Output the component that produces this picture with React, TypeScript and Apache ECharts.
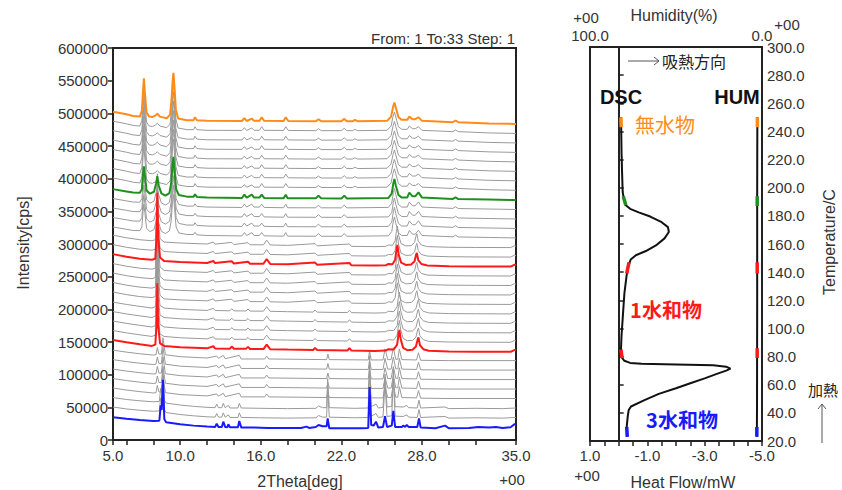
import React, { useEffect, useRef } from "react";
import * as echarts from "echarts";

// ---------- XRD (left panel) ----------
const xLabelValues = [5, 10, 16, 22, 28, 35];
const xTickValues = [5, 6, 8, 10, 12, 14, 16, 18, 20, 22, 24, 26, 28, 30, 32, 35];

// vertical offset of each of the 33 patterns (cps)
const offsets = [
  20000, 34500, 49000, 63500, 78000, 92500, 107000, 121500, 136000, 150500, 165000,
  179500, 194000, 208500, 223000, 237500, 252000, 266500, 281000, 295500, 310000,
  324500, 339000, 353500, 368000, 382500, 397000, 411500, 426000, 440500, 455000,
  469500, 484000,
];

// which pattern shape each scan shows
const phaseOfPattern = [
  "T", "Tg", "Tg", "X", "X", "X", "X", "X",
  "M1", "M1", "M1", "M1", "M1",
  "M2", "M2", "M2", "M2", "M2", "M2", "M2",
  "G", "G", "G", "G", "G",
  "A", "A", "A", "A", "A", "A", "A", "A",
];

const highlightColors: Record<number, string> = {
  0: "#1a1aff",
  8: "#ff1a1a",
  17: "#ff1a1a",
  24: "#1f8f1f",
  32: "#ff8c1a",
};

// pattern shapes: [2theta, intensity above offset]
const T: number[][] = [
  [5, 15000], [6, 12500], [7, 10500], [8, 9000], [8.45, 9500], [8.55, 33000], [8.62, 26000],
  [8.72, 72000], [8.82, 12000], [8.95, 7000], [10, 4000], [11, 2000], [12, 500], [12.6, 0],
  [12.72, 5000], [12.85, 0], [13.1, 0], [13.21, 8000], [13.35, 0], [13.5, -500], [13.59, 4000],
  [13.7, -500], [14.3, -500], [14.4, 9000], [14.55, -1000], [15.5, -1000], [16.5, -1500],
  [17.5, -1500], [19.0, -1500], [19.4, 500], [19.6, -1500], [20.1, 0], [20.3, 3000], [20.6, 1000],
  [20.9, 1000], [20.98, 13000], [21.1, -2000], [22.5, -2000], [23.5, -2000], [24.0, -1500],
  [24.1, 61000], [24.22, 3000], [24.4, 2000], [24.58, 8000], [24.75, -1000], [25.1, 0],
  [25.25, 16500], [25.4, 0], [25.75, 2000], [25.87, 24500], [26.0, 0], [26.5, 0], [26.6, 2000],
  [26.75, 0], [26.87, 3000], [27.0, 0], [27.65, 0], [27.78, 13000], [27.9, -1000], [29.0, -2000],
  [29.72, 2000], [30.0, -2000], [31.5, -1500], [32.2, 0], [33.0, -1000], [33.5, 0], [34.0, -1500],
  [34.6, -500], [34.9, 4500], [35.0, 3000],
];
const Tg: number[][] = [
  [5, 16000], [6, 13000], [7, 11000], [8, 9500], [8.45, 10000], [8.55, 30000], [8.62, 24000],
  [8.72, 60000], [8.82, 12000], [8.95, 7500], [10, 4500], [11, 2500], [12, 1000], [12.6, 500],
  [12.72, 6000], [12.85, 500], [13.1, 500], [13.21, 7000], [13.35, 500], [13.59, 4000], [13.7, 0],
  [14.3, 0], [14.4, 7000], [14.55, 0], [16, -500], [18, -1000], [20.1, -500], [20.3, 3000],
  [20.6, 500], [20.9, 500], [20.98, 45000], [21.1, 500], [23, -500], [24, 0], [24.1, 80000],
  [24.22, 2000], [24.58, 6000], [24.75, 0], [25.1, 1000], [25.25, 52000], [25.4, 1500],
  [25.75, 2500], [25.87, 60000], [26.0, 2000], [26.6, 1500], [26.87, 4000], [27.0, 500],
  [27.65, 0], [27.78, 12000], [27.9, 0], [29.7, 1500], [30, -1000], [32, -500], [34, -1000],
  [35, 0],
];
const X: number[][] = [
  [5, 16000], [6, 13000], [7, 10500], [8, 8500], [8.2, 9000], [8.3, 20000], [8.42, 10000],
  [8.6, 10000], [8.72, 35000], [8.9, 9000], [10, 6000], [12, 4000], [12.72, 7000], [12.85, 3500],
  [13.21, 8000], [13.35, 3000], [14.4, 8000], [14.55, 2500], [16.3, 2500], [16.44, 7000],
  [16.6, 2500], [20.9, 1500], [21.0, 10000], [21.1, 1500], [24.0, 1000], [24.1, 15000],
  [24.22, 1000], [25.1, 1000], [25.25, 18000], [25.45, 1500], [25.7, 1500], [25.87, 20000],
  [26.05, 2000], [26.2, 2000], [26.32, 18000], [26.5, 1500], [27.6, 1000], [27.74, 12000],
  [27.9, 500], [30, 0], [35, 0],
];
const M1: number[][] = [
  [5, 17000], [6, 13500], [7, 10500], [7.9, 8000], [8.15, 10000], [8.24, 40000], [8.3, 104000],
  [8.36, 40000], [8.5, 12000], [8.8, 8000], [10, 6000], [12, 4300], [12.47, 7500], [12.6, 4200],
  [13.7, 3800], [13.84, 7000], [14, 3700], [14.9, 3500], [15.05, 6500], [15.2, 3300], [16.2, 3200],
  [16.44, 10000], [16.7, 3000], [18, 2400], [19.9, 1800], [20.04, 5000], [20.2, 1700], [22.45, 1000],
  [22.6, 4500], [22.75, 900], [24.5, 300], [25.3, 800], [25.5, 3000], [25.9, 2500],
  [26.15, 10000], [26.25, 25000], [26.32, 32500], [26.42, 18000], [26.6, 5000], [26.9, 1500],
  [27.3, 2000], [27.55, 7000], [27.68, 18000], [27.74, 21000], [27.85, 9000], [28.1, 3000],
  [28.5, 500], [30, -500], [32, -800], [34.6, -1000], [34.9, 2000], [35, 1000],
];
const M2: number[][] = [
  [5, 18000], [6, 14000], [7, 11000], [7.9, 9500], [8.15, 11000], [8.24, 45000], [8.3, 112000],
  [8.36, 45000], [8.5, 13000], [8.8, 7500], [10, 6000], [12, 4500], [12.47, 7500], [12.6, 4300],
  [13.84, 7000], [14, 3700], [15.05, 6500], [15.2, 3300], [16.2, 3300], [16.44, 10500],
  [16.7, 3000], [18, 2400], [20.04, 5000], [20.2, 1700], [22.6, 4500], [22.75, 900], [24.5, 500],
  [25.3, 800], [25.5, 3000], [25.8, 2500], [26.0, 9000], [26.1, 24000], [26.17, 32000],
  [26.27, 17000], [26.45, 5000], [26.8, 1500], [27.2, 2000], [27.45, 7000], [27.56, 17000],
  [27.62, 20000], [27.72, 9000], [27.95, 3000], [28.4, 500], [30, -500], [32, -800],
  [34.6, -1000], [34.9, 2000], [35, 1000],
];
const G: number[][] = [
  [5, 16000], [6, 12500], [6.5, 10700], [7.0, 10500], [7.15, 16000], [7.24, 40000], [7.3, 51000],
  [7.37, 38000], [7.5, 14000], [7.75, 9000], [8.05, 12000], [8.2, 24000], [8.3, 36000],
  [8.4, 22000], [8.6, 9500], [8.9, 6000], [9.2, 10000], [9.33, 25000], [9.43, 55000],
  [9.5, 65500], [9.58, 45000], [9.7, 16000], [9.9, 7000], [10.5, 4500], [11.0, 4500],
  [11.1, 8000], [11.25, 4000], [12, 3000], [14.6, 2400], [14.78, 7500], [14.95, 3000],
  [15.33, 7500], [15.5, 3000], [15.9, 3000], [16.07, 7500], [16.25, 2500], [17.7, 2000],
  [17.86, 7500], [18.0, 2000], [20.1, 1900], [20.29, 6000], [20.5, 1900], [22.0, 1800],
  [22.22, 6000], [22.4, 1800], [25.5, 2500], [25.75, 9000], [25.87, 25000], [25.95, 31500],
  [26.05, 22000], [26.25, 7000], [26.5, 3000], [26.9, 3000], [27.06, 10700], [27.3, 5000],
  [27.5, 5000], [27.74, 11000], [28.0, 3000], [30.3, 1000], [30.5, 3500], [30.7, 800], [33, 0],
  [35, -700],
];
const A: number[][] = [
  [5, 18500], [6, 14500], [6.5, 12000], [7.0, 11000], [7.15, 20000], [7.24, 52000],
  [7.3, 69500], [7.37, 48000], [7.5, 17000], [7.7, 11000], [7.95, 10500], [8.15, 12500],
  [8.3, 15300], [8.5, 11000], [9.0, 8500], [9.25, 14000], [9.36, 38000], [9.44, 66000],
  [9.5, 78000], [9.57, 58000], [9.68, 22000], [9.85, 8000], [10.5, 5500], [11.0, 5500],
  [11.1, 10000], [11.25, 5500], [12, 4500], [14.6, 4300], [14.78, 8500], [14.95, 4300],
  [15.33, 8000], [15.5, 4500], [15.9, 4500], [16.07, 10000], [16.25, 4500], [17.7, 4300],
  [17.86, 10000], [18.05, 4300], [20.1, 4000], [20.29, 7000], [20.5, 4000], [22.0, 4000],
  [22.22, 7500], [22.4, 4000], [22.85, 4000], [23.0, 6000], [23.2, 4000], [25.4, 4500],
  [25.7, 11000], [25.85, 26000], [25.95, 32600], [26.05, 25000], [26.25, 10000], [26.5, 6000],
  [26.9, 6000], [27.06, 11000], [27.3, 7000], [27.5, 7000], [27.74, 10000], [28.0, 4500],
  [30.3, 2500], [30.5, 5000], [30.7, 2500], [33, 500], [35, -300],
];
const shapes: Record<string, number[][]> = { T, Tg, X, M1, M2, G, A };

// ---------- DSC / humidity (right panel) ----------
const hfLabelValues = [1, -1, -3, -5];
const humLabelValues = [100, 0];
// [heat flow mW, temperature C]
const dscCurve: number[][] = [
  [-0.30, 23], [-0.28, 30], [-0.32, 38], [-0.35, 42], [-0.43, 44.5], [-0.9, 49], [-1.4, 53.5],
  [-2.0, 57.5], [-2.5, 61], [-3.0, 64.5], [-3.4, 67.5], [-3.75, 70], [-3.9, 71.4], [-3.75, 72.8],
  [-3.3, 73.8], [-2.0, 74.4], [-0.8, 74.9], [-0.4, 75.5], [-0.2, 77], [-0.12, 79], [-0.08, 85],
  [-0.1, 95], [-0.15, 110], [-0.2, 125], [-0.28, 138], [-0.35, 145], [-0.42, 149], [-0.6, 152],
  [-0.95, 155], [-1.3, 159], [-1.6, 164], [-1.75, 168.5], [-1.72, 172], [-1.5, 175.5],
  [-1.1, 179.5], [-0.7, 182.5], [-0.4, 185], [-0.25, 187.5], [-0.18, 192], [-0.14, 197],
  [-0.12, 210], [-0.1, 225], [-0.09, 240], [-0.08, 250],
];
// [humidity %, temperature C]
const humCurve: number[][] = [
  [3.0, 23], [2.9, 45], [2.8, 120], [2.8, 200], [2.7, 250],
];
const dscSegments = [
  { color: "#1a1aff", data: [[-0.30, 23], [-0.28, 30]] },
  { color: "#ff1a1a", data: [[-0.12, 79], [-0.08, 85]] },
  { color: "#ff1a1a", data: [[-0.28, 139], [-0.36, 147]] },
  { color: "#1f8f1f", data: [[-0.25, 187.5], [-0.16, 194]] },
  { color: "#ff8c1a", data: [[-0.09, 243], [-0.08, 250]] },
];
const humSegments = [
  { color: "#1a1aff", data: [[3.0, 23], [3.0, 30]] },
  { color: "#ff1a1a", data: [[2.8, 79], [2.8, 86]] },
  { color: "#ff1a1a", data: [[2.8, 139], [2.8, 147]] },
  { color: "#1f8f1f", data: [[2.8, 187], [2.8, 194]] },
  { color: "#ff8c1a", data: [[2.7, 243], [2.7, 250]] },
];

const FONT = "'Liberation Sans', Arial, sans-serif";
const CJK = "'Noto Sans CJK JP', 'Noto Sans CJK SC', sans-serif";
const TXT = "#333";

function txt(text: string, x: number, y: number, extra: any = {}, rotation = 0): any {
  return {
    type: "text",
    x,
    y,
    rotation,
    z: 100,
    style: {
      text,
      fontSize: 15,
      fontFamily: FONT,
      fill: TXT,
      align: "center",
      verticalAlign: "middle",
      textAlign: "center",
      textVerticalAlign: "middle",
      ...extra,
    },
  };
}

export default function App() {
  const ref = useRef<HTMLDivElement>(null);

  useEffect(() => {
    if (!ref.current) return;
    const chart = echarts.init(ref.current, null, { renderer: "svg" });

    const xrdSeries: any[] = offsets.map((off, i) => {
      const shape = shapes[phaseOfPattern[i]];
      const color = highlightColors[i];
      return {
        type: "line",
        xAxisIndex: 0,
        yAxisIndex: 0,
        showSymbol: false,
        symbol: "none",
        silent: true,
        z: color ? 5 : 2,
        lineStyle: { color: color || "#9a9a9a", width: color ? 2 : 1 },
        data: shape.map(([x, y]) => [x, y + off]),
      };
    });

    const dscSeries: any[] = [
      {
        type: "line",
        xAxisIndex: 1,
        yAxisIndex: 1,
        symbol: "none",
        showSymbol: false,
        z: 3,
        lineStyle: { color: "#111", width: 2 },
        data: dscCurve,
      },
      {
        type: "line",
        xAxisIndex: 2,
        yAxisIndex: 1,
        symbol: "none",
        showSymbol: false,
        z: 3,
        lineStyle: { color: "#111", width: 2 },
        data: humCurve,
      },
      ...dscSegments.map((s) => ({
        type: "line",
        xAxisIndex: 1,
        yAxisIndex: 1,
        symbol: "none",
        showSymbol: false,
        z: 6,
        lineStyle: { color: s.color, width: 3.5 },
        data: s.data,
      })),
      ...humSegments.map((s) => ({
        type: "line",
        xAxisIndex: 2,
        yAxisIndex: 1,
        symbol: "none",
        showSymbol: false,
        z: 6,
        lineStyle: { color: s.color, width: 3.5 },
        data: s.data,
      })),
    ];

    const axisLine = { show: true, lineStyle: { color: "#222", width: 2 } };
    const labelStyle = { color: TXT, fontSize: 15, fontFamily: FONT };

    chart.setOption({
      animation: false,
      backgroundColor: "#fff",
      grid: [
        { left: 113, top: 48, width: 403, height: 392, show: true, borderColor: "#222", borderWidth: 2, backgroundColor: "transparent" },
        { left: 590, top: 47, width: 172, height: 394, show: true, borderColor: "#222", borderWidth: 2, backgroundColor: "transparent" },
      ],
      xAxis: [
        {
          type: "value",
          gridIndex: 0,
          min: 5,
          max: 35,
          interval: 1,
          axisLine,
          splitLine: { show: false },
          axisTick: { show: true, length: 5, lineStyle: { color: "#222", width: 1.5 }, customValues: xTickValues },
          axisLabel: { ...labelStyle, margin: 8, customValues: xLabelValues, formatter: (v: number) => v.toFixed(1) },
        },
        {
          type: "value",
          gridIndex: 1,
          position: "bottom",
          min: -5,
          max: 1,
          interval: 0.5,
          inverse: true,
          axisLine,
          splitLine: { show: false },
          axisTick: { show: true, length: 5, lineStyle: { color: "#222", width: 1.5 } },
          axisLabel: { ...labelStyle, margin: 7, customValues: hfLabelValues, formatter: (v: number) => v.toFixed(1) },
        },
        {
          type: "value",
          gridIndex: 1,
          position: "top",
          min: 0,
          max: 100,
          interval: 100,
          inverse: true,
          axisLine,
          splitLine: { show: false },
          axisTick: { show: false },
          axisLabel: { ...labelStyle, margin: 4, customValues: humLabelValues, formatter: (v: number) => v.toFixed(1) },
        },
      ],
      yAxis: [
        {
          type: "value",
          gridIndex: 0,
          min: 0,
          max: 600000,
          interval: 50000,
          axisLine,
          splitLine: { show: false },
          axisTick: { show: true, length: 5, lineStyle: { color: "#222", width: 1.5 } },
          axisLabel: { ...labelStyle, margin: 5, formatter: (v: number) => String(v) },
        },
        {
          type: "value",
          gridIndex: 1,
          position: "right",
          min: 20,
          max: 300,
          interval: 20,
          axisLine,
          splitLine: { show: false },
          axisTick: { show: true, length: 5, lineStyle: { color: "#222", width: 1.5 } },
          axisLabel: { ...labelStyle, margin: 5, formatter: (v: number) => v.toFixed(1) },
        },
      ],
      series: [...xrdSeries, ...dscSeries],
      graphic: [
        txt("From: 1 To:33 Step: 1", 515, 38, { align: "right", textAlign: "right" }),
        txt("Intensity[cps]", 23, 243, { fontSize: 16 }, Math.PI / 2),
        txt("2Theta[deg]", 300, 481, { fontSize: 16 }),
        txt("+00", 512, 479),
        txt("+00", 587, 475),
        txt("Heat Flow/mW", 683, 482, { fontSize: 16 }),
        txt("Humidity(%)", 674, 15, { fontSize: 16 }),
        txt("+00", 586, 17),
        txt("+00", 787, 24),
        txt("Temperature/C", 829, 242, { fontSize: 16 }, Math.PI / 2),
        txt("DSC", 621, 97, { fontSize: 20, fontWeight: "bold", fill: "#111" }),
        txt("HUM", 737, 97, { fontSize: 20, fontWeight: "bold", fill: "#111" }),
        txt("吸熱方向", 662, 61, { fontSize: 16, fontFamily: CJK, fill: "#222", align: "left", textAlign: "left" }),
        txt("無水物", 665, 124, { fontSize: 20, fontFamily: CJK, fill: "#ff8c1a" }),
        txt("1水和物", 666, 309, { fontSize: 20, fontFamily: CJK, fontWeight: "bold", fill: "#ff1a1a" }),
        txt("3水和物", 682, 419, { fontSize: 20, fontFamily: CJK, fontWeight: "bold", fill: "#1a1aff" }),
        txt("加熱", 823, 389, { fontSize: 15, fontFamily: CJK, fill: "#222" }),
        { type: "line", z: 100, shape: { x1: 628, y1: 61, x2: 659, y2: 61 }, style: { stroke: "#555", lineWidth: 1 } },
        { type: "polyline", z: 100, shape: { points: [[654, 57], [659, 61], [654, 65]] }, style: { stroke: "#555", lineWidth: 1, fill: null } },
        { type: "line", z: 100, shape: { x1: 822, y1: 443, x2: 822, y2: 404 }, style: { stroke: "#555", lineWidth: 1 } },
        { type: "polyline", z: 100, shape: { points: [[818, 409], [822, 404], [826, 409]] }, style: { stroke: "#555", lineWidth: 1, fill: null } },
      ],
    });

    return () => chart.dispose();
  }, []);

  return (
    <div
      ref={ref}
      style={{ position: "fixed", left: 0, top: 0, width: 842, height: 490, background: "#fff" }}
    />
  );
}
